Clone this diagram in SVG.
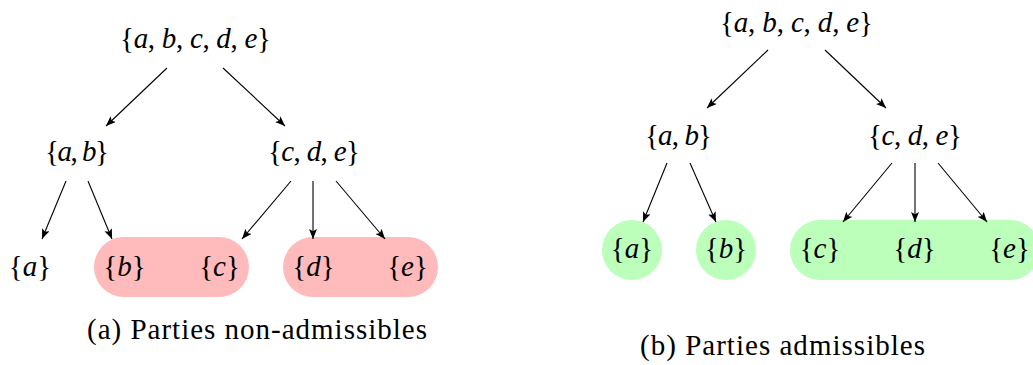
<svg xmlns="http://www.w3.org/2000/svg" width="1033" height="365" viewBox="0 0 1033 365">
<style>
.m{font-size:29px;fill:#000;text-anchor:middle}
.i{font-style:italic}
.cap{font-size:29px;fill:#000;text-anchor:middle}
.e line{stroke:#000;stroke-width:1.1;marker-end:url(#ah)}
.pink{fill:#FFBBBB}
.green{fill:#BBFFBB}
</style>
<defs>
<marker id="ah" markerUnits="userSpaceOnUse" markerWidth="12" markerHeight="10" refX="10" refY="4" orient="auto">
<path d="M0,0 L10,4 L0,8 L2.2,4 Z" fill="#000"/>
</marker>
</defs>
<rect width="1033" height="365" fill="#fff"/>

<g id="highlights">
<rect class="pink" x="94" y="237" width="155" height="60" rx="30"/>
<rect class="pink" x="283" y="237" width="155" height="60" rx="30"/>
<circle class="green" cx="632" cy="250" r="30"/>
<circle class="green" cx="726" cy="250" r="30"/>
<rect class="green" x="790" y="220" width="250" height="60" rx="30"/>
</g>

<g id="connectors" class="e">
<line x1="167" y1="68" x2="106" y2="126"/>
<line x1="223" y1="68" x2="285" y2="126"/>
<line x1="66" y1="181" x2="42" y2="239"/>
<line x1="88" y1="181" x2="112" y2="239"/>
<line x1="291" y1="181" x2="242" y2="239"/>
<line x1="313" y1="181" x2="313" y2="239"/>
<line x1="336" y1="181" x2="385" y2="239"/>
<line x1="768" y1="50" x2="707" y2="108"/>
<line x1="825" y1="50" x2="886" y2="108"/>
<line x1="667" y1="163" x2="643" y2="222"/>
<line x1="690" y1="163" x2="716" y2="222"/>
<line x1="892" y1="163" x2="843" y2="222"/>
<line x1="915" y1="163" x2="915" y2="222"/>
<line x1="938" y1="163" x2="987" y2="222"/>
</g>

<g font-family="'Liberation Serif', serif">
<g id="a-root"><text class="m" x="195.5" y="48" textLength="151" lengthAdjust="spacing">{<tspan class="i">a</tspan>, <tspan class="i">b</tspan>, <tspan class="i">c</tspan>, <tspan class="i">d</tspan>, <tspan class="i">e</tspan>}</text></g>
<g id="a-ab"><text class="m" x="77" y="161" textLength="64" lengthAdjust="spacing">{<tspan class="i">a</tspan>, <tspan class="i">b</tspan>}</text></g>
<g id="a-cde"><text class="m" x="314" y="161" textLength="92" lengthAdjust="spacing">{<tspan class="i">c</tspan>, <tspan class="i">d</tspan>, <tspan class="i">e</tspan>}</text></g>
<g id="a-a"><text class="m" x="30" y="276">{<tspan class="i">a</tspan>}</text></g>
<g id="a-b"><text class="m" x="124.5" y="276">{<tspan class="i">b</tspan>}</text></g>
<g id="a-c"><text class="m" x="219.5" y="276">{<tspan class="i">c</tspan>}</text></g>
<g id="a-d"><text class="m" x="313.5" y="276">{<tspan class="i">d</tspan>}</text></g>
<g id="a-e"><text class="m" x="407.5" y="276">{<tspan class="i">e</tspan>}</text></g>
<text class="cap" x="257" y="339" textLength="340" lengthAdjust="spacing">(a) Parties non-admissibles</text>

<g id="b-root"><text class="m" x="796.5" y="32" textLength="153" lengthAdjust="spacing">{<tspan class="i">a</tspan>, <tspan class="i">b</tspan>, <tspan class="i">c</tspan>, <tspan class="i">d</tspan>, <tspan class="i">e</tspan>}</text></g>
<g id="b-ab"><text class="m" x="678.5" y="145" textLength="67" lengthAdjust="spacing">{<tspan class="i">a</tspan>, <tspan class="i">b</tspan>}</text></g>
<g id="b-cde"><text class="m" x="915" y="145" textLength="94" lengthAdjust="spacing">{<tspan class="i">c</tspan>, <tspan class="i">d</tspan>, <tspan class="i">e</tspan>}</text></g>
<g id="b-a"><text class="m" x="632" y="258">{<tspan class="i">a</tspan>}</text></g>
<g id="b-b"><text class="m" x="726" y="258">{<tspan class="i">b</tspan>}</text></g>
<g id="b-c"><text class="m" x="820" y="258">{<tspan class="i">c</tspan>}</text></g>
<g id="b-d"><text class="m" x="914.5" y="258">{<tspan class="i">d</tspan>}</text></g>
<g id="b-e"><text class="m" x="1009.5" y="258">{<tspan class="i">e</tspan>}</text></g>
<text class="cap" x="782.5" y="355" textLength="285" lengthAdjust="spacing">(b) Parties admissibles</text>
</g>
</svg>
